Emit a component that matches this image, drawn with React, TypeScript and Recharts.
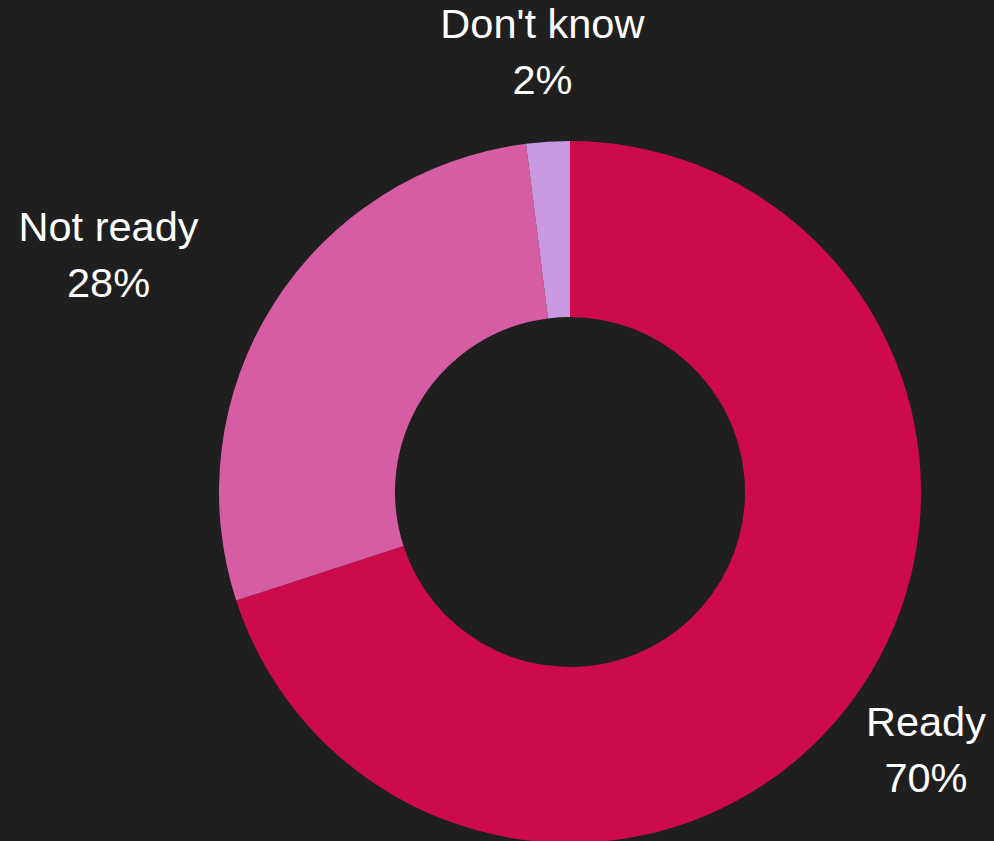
import React from 'react';
import { PieChart, Pie, Cell } from 'recharts';

const categories = ['Ready', 'Not ready', "Don't know"];
const values = [70, 28, 2];
const colors = ['#CD0B4A', '#D65DA3', '#C99AE0'];

const data = categories.map((name, i) => ({ name, value: values[i] }));

const RADIAN = Math.PI / 180;
const FONT_SIZE = 41.5;
const FONT = "'Liberation Sans', Arial, sans-serif";

let ctx: CanvasRenderingContext2D | null = null;
const measure = (s: string) => {
  if (!ctx) {
    const c = document.createElement('canvas');
    ctx = c.getContext('2d');
  }
  if (!ctx) return s.length * FONT_SIZE * 0.5;
  ctx.font = `${FONT_SIZE}px ${FONT}`;
  return ctx.measureText(s).width;
};

const renderLabel = (props: any) => {
  const { cx, cy, midAngle, outerRadius, name, value } = props;
  const r = outerRadius + 89;
  let x = cx + r * Math.cos(-midAngle * RADIAN);
  const y = cy + r * Math.sin(-midAngle * RADIAN);
  const pct = `${value}%`;
  if (x < cx - 100) {
    const w = Math.max(measure(name), measure(pct));
    x = x - w / 2;
  }
  return (
    <text
      x={x}
      y={y}
      fill="#ffffff"
      textAnchor="middle"
      fontFamily={FONT}
      fontSize={FONT_SIZE}
    >
      <tspan x={x} y={y - 15}>{name}</tspan>
      <tspan x={x} y={y + 41}>{pct}</tspan>
    </text>
  );
};

export default function App() {
  return (
    <div style={{ position: 'fixed', left: 0, top: 0, width: 994, height: 841, background: '#1F1F1F' }}>
      <PieChart width={994} height={841} margin={{ top: 0, right: 0, bottom: 0, left: 0 }}>
        <Pie
          data={data}
          dataKey="value"
          nameKey="name"
          cx={570}
          cy={492}
          outerRadius={351}
          innerRadius={175}
          startAngle={90}
          endAngle={-270}
          stroke="none"
          label={renderLabel}
          labelLine={false}
          isAnimationActive={false}
        >
          {data.map((d, i) => (
            <Cell key={d.name} fill={colors[i]} />
          ))}
        </Pie>
      </PieChart>
    </div>
  );
}
